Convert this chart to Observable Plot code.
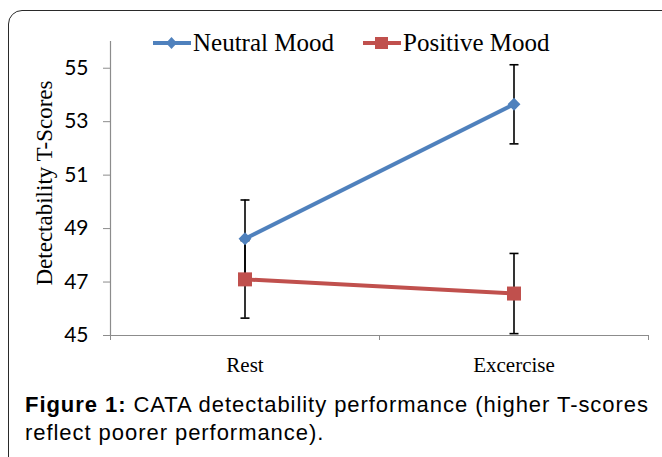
<!DOCTYPE html>
<html>
<head>
<meta charset="utf-8">
<script src="https://cdn.jsdelivr.net/npm/d3@7"></script>
<script src="https://cdn.jsdelivr.net/npm/@observablehq/plot@0.6"></script>
<style>
  html, body { margin: 0; padding: 0; background: #fff; overflow: hidden; }
  #page { position: relative; width: 662px; height: 457px; overflow: hidden; background: #fff; }
  #frame { position: absolute; left: 8px; top: 10px; width: 700px; height: 500px;
           border: 1.5px solid #2a2a2a; border-radius: 14px; box-sizing: border-box; }
  #chart { position: absolute; left: 0; top: 0; }
  #legend { position: absolute; left: 0; top: 0; width: 662px; height: 60px; }
  .leg { position: absolute; top: 29px; display: flex; align-items: center;
         font-family: "Liberation Serif", "Times New Roman", serif; font-size: 25px; color: #000; }
  .leg svg { display: block; }
  #caption { position: absolute; left: 25px; top: 391px; width: 637px;
             font-family: "Liberation Sans", Arial, sans-serif; font-size: 22px;
             letter-spacing: 0.95px; line-height: 28px; color: #000; white-space: nowrap; }
</style>
</head>
<body>
<div id="page">
  <div id="frame"></div>
  <div id="chart"></div>
  <div id="legend"></div>
  <div id="caption"><b>Figure 1:</b> CATA detectability performance (higher T-scores<br>reflect poorer performance).</div>
</div>
<script>
// ---- data ----
const categories = ["Rest", "Excercise"];
const seriesNames = ["Neutral Mood", "Positive Mood"];
const seriesColors = ["#4F81BD", "#C0504D"];
const neutralValues = [48.62, 53.65];
const neutralErrors = [1.45, 1.48];
const positiveValues = [47.1, 46.57];
const positiveErrors = [1.45, 1.5];
const yTicks = [45, 47, 49, 51, 53, 55];
const yTitle = "Detectability T-Scores";

const rows = (name, values, errors) => categories.map((c, i) => ({
  series: name, category: c, pos: i + 0.5, value: values[i], lo: values[i] - errors[i], hi: values[i] + errors[i]
}));
const neutral = rows(seriesNames[0], neutralValues, neutralErrors);
const positive = rows(seriesNames[1], positiveValues, positiveErrors);
const all = neutral.concat(positive);

const capSymbol = { draw(ctx) { ctx.moveTo(-4.5, 0); ctx.lineTo(4.5, 0); } };

const chart = Plot.plot({
  width: 662,
  height: 380,
  marginLeft: 110,
  marginRight: 14,
  marginTop: 41,
  marginBottom: 45,
  x: { domain: [0, categories.length], axis: null },
  y: { domain: [45, 56], axis: null },
  marks: [
    // axis lines
    Plot.ruleX([0], { stroke: "#8c8c8c", strokeWidth: 1.2 }),
    Plot.ruleY([45], { stroke: "#8c8c8c", strokeWidth: 1.2 }),
    Plot.axisY(yTicks, { anchor: "left", tickSize: 7, tickPadding: 15, stroke: "#8c8c8c", fill: "#000",
      fontSize: 21, fontFamily: "Lato, Carlito, sans-serif", label: null }),
    Plot.axisX(d3.range(categories.length + 1), { anchor: "bottom", tickSize: 5, stroke: "#8c8c8c",
      tickFormat: () => "", label: null }),
    Plot.axisX(categories.map((c, i) => i + 0.5), { anchor: "bottom", tickSize: 0, tickPadding: 22,
      tickFormat: d => categories[Math.floor(d)], fontSize: 21,
      fontFamily: "'Liberation Serif', 'Times New Roman', serif", fill: "#000", label: null }),
    Plot.text([yTitle], { frameAnchor: "left", textAnchor: "middle", lineAnchor: "middle", rotate: -90,
      dx: -66, dy: -5.5, fontSize: 23,
      fontFamily: "'Liberation Serif', 'Times New Roman', serif", fill: "#000" }),
    // series lines
    Plot.line(neutral, { x: "pos", y: "value", stroke: seriesColors[0], strokeWidth: 4 }),
    Plot.line(positive, { x: "pos", y: "value", stroke: seriesColors[1], strokeWidth: 4 }),
    // error bars
    Plot.ruleX(all, { x: "pos", y1: "lo", y2: "hi", stroke: "#000", strokeWidth: 1.6 }),
    Plot.dot(all, { x: "pos", y: "lo", symbol: capSymbol, stroke: "#000", strokeWidth: 1.6, fill: "none" }),
    Plot.dot(all, { x: "pos", y: "hi", symbol: capSymbol, stroke: "#000", strokeWidth: 1.6, fill: "none" }),
    // markers
    Plot.dot(neutral, { x: "pos", y: "value", symbol: "diamond2", r: 5.8, fill: seriesColors[0] }),
    Plot.dot(positive, { x: "pos", y: "value", symbol: "square", r: 7.9, fill: seriesColors[1] })
  ]
});
document.getElementById("chart").appendChild(chart);

// ---- legend ----
const legend = document.getElementById("legend");
const legendX = [153, 363];
const legendSymbols = [
  '<path d="M18.5,3 L24,9 L18.5,15 L13,9 Z" />',
  '<rect x="12" y="3" width="13" height="12" />'
];
seriesNames.forEach((name, i) => {
  const item = document.createElement("div");
  item.className = "leg";
  item.style.left = legendX[i] + "px";
  item.innerHTML = `<svg width="38" height="18" viewBox="0 0 38 18">
      <line x1="0" x2="38" y1="9" y2="9" stroke="${seriesColors[i]}" stroke-width="4"/>
      <g fill="${seriesColors[i]}">${legendSymbols[i]}</g></svg>
      <span style="margin-left:2px">${name}</span>`;
  legend.appendChild(item);
});
</script>
</body>
</html>
